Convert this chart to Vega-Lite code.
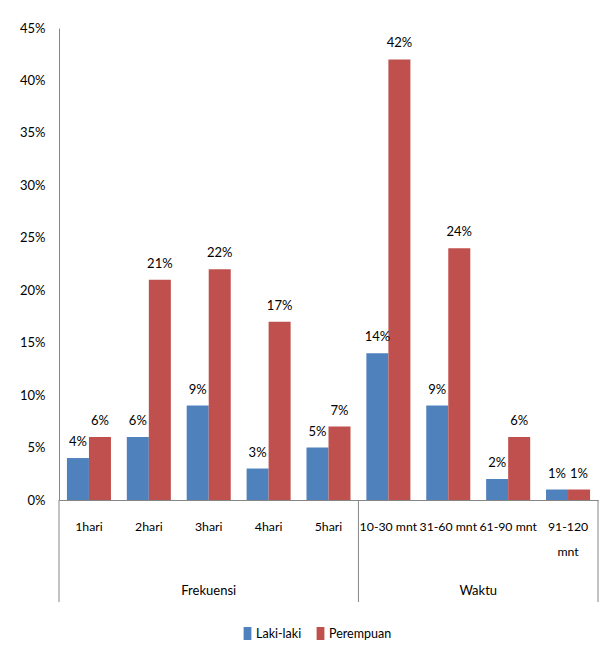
{
  "$schema": "https://vega.github.io/schema/vega-lite/v6.json",
  "width": 539,
  "height": 472,
  "autosize": "none",
  "padding": {"left": 59, "top": 28, "right": 14, "bottom": 161},
  "background": "white",
  "config": {
    "font": "Lato",
    "view": {"stroke": null},
    "axis": {"labelColor": "#000000", "labelFontSize": 13, "labelFont": "Lato", "domainColor": "#868686", "ticks": false, "grid": false, "title": null},
    "legend": {"labelFont": "Lato"},
    "text": {"font": "Lato"}
  },
  "data": {
    "values": [
      {"group": "Frekuensi", "category": "1hari", "series": "Laki-laki", "value": 0.04},
      {"group": "Frekuensi", "category": "1hari", "series": "Perempuan", "value": 0.06},
      {"group": "Frekuensi", "category": "2hari", "series": "Laki-laki", "value": 0.06},
      {"group": "Frekuensi", "category": "2hari", "series": "Perempuan", "value": 0.21},
      {"group": "Frekuensi", "category": "3hari", "series": "Laki-laki", "value": 0.09},
      {"group": "Frekuensi", "category": "3hari", "series": "Perempuan", "value": 0.22},
      {"group": "Frekuensi", "category": "4hari", "series": "Laki-laki", "value": 0.03},
      {"group": "Frekuensi", "category": "4hari", "series": "Perempuan", "value": 0.17},
      {"group": "Frekuensi", "category": "5hari", "series": "Laki-laki", "value": 0.05},
      {"group": "Frekuensi", "category": "5hari", "series": "Perempuan", "value": 0.07},
      {"group": "Waktu", "category": "10-30 mnt", "series": "Laki-laki", "value": 0.14},
      {"group": "Waktu", "category": "10-30 mnt", "series": "Perempuan", "value": 0.42},
      {"group": "Waktu", "category": "31-60 mnt", "series": "Laki-laki", "value": 0.09},
      {"group": "Waktu", "category": "31-60 mnt", "series": "Perempuan", "value": 0.24},
      {"group": "Waktu", "category": "61-90 mnt", "series": "Laki-laki", "value": 0.02},
      {"group": "Waktu", "category": "61-90 mnt", "series": "Perempuan", "value": 0.06},
      {"group": "Waktu", "category": "91-120 mnt", "series": "Laki-laki", "value": 0.01},
      {"group": "Waktu", "category": "91-120 mnt", "series": "Perempuan", "value": 0.01}
    ]
  },
  "layer": [
    {
      "mark": {"type": "bar"},
      "encoding": {
        "x": {
          "field": "category", "type": "nominal",
          "scale": {"domain": ["1hari", "2hari", "3hari", "4hari", "5hari", "10-30 mnt", "31-60 mnt", "61-90 mnt", "91-120 mnt"], "paddingInner": 0, "paddingOuter": 0},
          "axis": {
            "labelAngle": 0, "labelPadding": 20, "labelOverlap": false, "labelBound": false, "labelFlush": false,
            "labelFontSize": 12.3, "labelLineHeight": 25,
            "labelExpr": "datum.value === '91-120 mnt' ? ['91-120', 'mnt'] : datum.value"
          }
        },
        "xOffset": {"field": "series", "type": "nominal", "scale": {"paddingInner": 0, "paddingOuter": 0.36}},
        "y": {
          "field": "value", "type": "quantitative",
          "scale": {"domain": [0, 0.45], "nice": false},
          "axis": {"values": [0, 0.05, 0.1, 0.15, 0.2, 0.25, 0.3, 0.35, 0.4, 0.45], "format": ".0%", "labelPadding": 14}
        },
        "color": {
          "field": "series", "type": "nominal",
          "scale": {"domain": ["Laki-laki", "Perempuan"], "range": ["#4F81BD", "#C0504D"]},
          "legend": {
            "title": null, "orient": "none", "legendX": 182, "legendY": 599, "direction": "horizontal",
            "symbolType": "M-0.6,-1L0.6,-1L0.6,1L-0.6,1Z", "symbolSize": 169, "symbolStrokeWidth": 0,
            "labelFontSize": 12.5, "labelColor": "#000000", "labelOffset": 2, "columnPadding": 12, "padding": 0
          }
        }
      }
    },
    {
      "mark": {"type": "text", "baseline": "bottom", "dy": -9, "fontSize": 13, "color": "#000000"},
      "encoding": {
        "x": {"field": "category", "type": "nominal"},
        "xOffset": {"field": "series", "type": "nominal"},
        "y": {"field": "value", "type": "quantitative"},
        "text": {"field": "value", "type": "quantitative", "format": ".0%"}
      }
    },
    {
      "data": {"values": [{"boundary": "1hari"}, {"boundary": "10-30 mnt"}]},
      "mark": {"type": "rule", "color": "#868686"},
      "encoding": {
        "x": {"field": "boundary", "type": "nominal", "bandPosition": 0},
        "y": {"datum": 0},
        "y2": {"datum": -0.0973}
      }
    },
    {
      "data": {"values": [{"boundary": "91-120 mnt"}]},
      "mark": {"type": "rule", "color": "#868686"},
      "encoding": {
        "x": {"field": "boundary", "type": "nominal", "bandPosition": 1},
        "y": {"datum": 0},
        "y2": {"datum": -0.0973}
      }
    },
    {
      "data": {"values": [{"group": "Frekuensi", "at": "3hari"}]},
      "mark": {"type": "text", "baseline": "middle", "fontSize": 13, "color": "#000000"},
      "encoding": {
        "x": {"field": "at", "type": "nominal", "bandPosition": 0.5},
        "y": {"datum": -0.0868},
        "text": {"field": "group"}
      }
    },
    {
      "data": {"values": [{"group": "Waktu", "at": "61-90 mnt"}]},
      "mark": {"type": "text", "baseline": "middle", "fontSize": 13, "color": "#000000"},
      "encoding": {
        "x": {"field": "at", "type": "nominal", "bandPosition": 0},
        "y": {"datum": -0.0868},
        "text": {"field": "group"}
      }
    }
  ]
}
